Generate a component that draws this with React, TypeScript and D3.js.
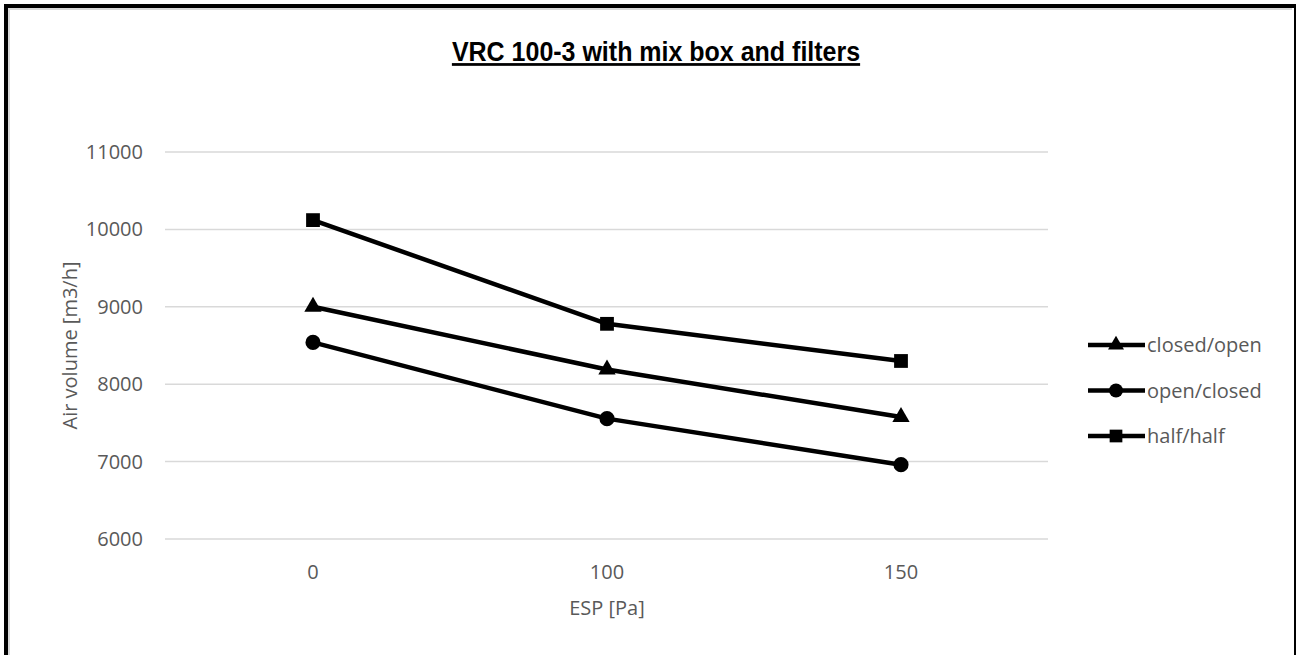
import * as d3 from 'd3';
import React from 'react';

const categories = ['0', '100', '150'];
const closedOpen = [9000, 8190, 7575];
const openClosed = [8540, 7555, 6960];
const halfHalf = [10120, 8780, 8300];
const yTicks = [6000, 7000, 8000, 9000, 10000, 11000];

const series = [
  { name: 'closed/open', values: closedOpen, symbol: d3.symbolTriangle, size: 130 },
  { name: 'open/closed', values: openClosed, symbol: d3.symbolCircle, size: 180 },
  { name: 'half/half', values: halfHalf, symbol: d3.symbolSquare, size: 190 },
];

const W = 1296;
const H = 655;
const font = "'Open Sans', 'Noto Sans', sans-serif";
const grey = '#595959';

const App: React.FC = () => {
  const x = d3.scalePoint<string>().domain(categories).range([166, 1048]).padding(0.5);
  const y = d3.scaleLinear().domain([6000, 11000]).range([539, 152]);

  const line = d3
    .line<number>()
    .x((_, i) => x(categories[i]) as number)
    .y((d) => y(d));

  return (
    <svg
      width={W}
      height={H}
      style={{ position: 'absolute', left: 0, top: 0, background: 'white' }}
    >
      {/* frame */}
      <rect x={6} y={6} width={1290} height={800} fill='white' stroke='black' strokeWidth={4} />
      <polyline points={`9,${H} 9,9 ${W - 4},9`} fill='none' stroke='#d9d9d9' strokeWidth={2} />

      {/* title */}
      <text
        transform='translate(656,61) scale(1,1.1)'
        textAnchor='middle'
        fontFamily="'Liberation Sans', Arial, sans-serif"
        fontWeight='bold'
        fontSize={25}
        textDecoration='underline'
      >
        VRC 100-3 with mix box and filters
      </text>

      {/* grid */}
      {yTicks.map((t) => (
        <g key={t}>
          <line x1={165} x2={1048} y1={y(t)} y2={y(t)} stroke='#d9d9d9' strokeWidth={1.5} />
          <text
            x={143}
            y={y(t)}
            dy='0.35em'
            textAnchor='end'
            fontFamily={font}
            fontSize={20}
            fill={grey}
          >
            {t}
          </text>
        </g>
      ))}

      {categories.map((c) => (
        <text
          key={c}
          x={x(c)}
          y={579}
          textAnchor='middle'
          fontFamily={font}
          fontSize={20}
          fill={grey}
        >
          {c}
        </text>
      ))}

      <text x={607} y={615} textAnchor='middle' fontFamily={font} fontSize={20} fill={grey}>
        ESP [Pa]
      </text>
      <text
        transform={`translate(77,${y(8500)}) rotate(-90)`}
        textAnchor='middle'
        fontFamily={font}
        fontSize={20}
        fill={grey}
      >
        Air volume [m3/h]
      </text>

      {/* series */}
      {series.map((s) => (
        <g key={s.name}>
          <path d={line(s.values) || ''} fill='none' stroke='black' strokeWidth={4.5} strokeLinejoin='round' />
          {s.values.map((v, i) => (
            <path
              key={i}
              transform={`translate(${x(categories[i])},${y(v)})`}
              d={d3.symbol().type(s.symbol).size(s.size)() || ''}
              fill='black'
            />
          ))}
        </g>
      ))}

      {/* legend */}
      {series.map((s, i) => {
        const ly = 345 + i * 45.5;
        return (
          <g key={s.name}>
            <line x1={1088} x2={1145} y1={ly} y2={ly} stroke='black' strokeWidth={4.5} />
            <path
              transform={`translate(1116,${ly})`}
              d={d3.symbol().type(s.symbol).size(s.size * 0.85)() || ''}
              fill='black'
            />
            <text x={1147} y={ly} dy='0.35em' fontFamily={font} fontSize={20} fill={grey}>
              {s.name}
            </text>
          </g>
        );
      })}
    </svg>
  );
};

export default App;
